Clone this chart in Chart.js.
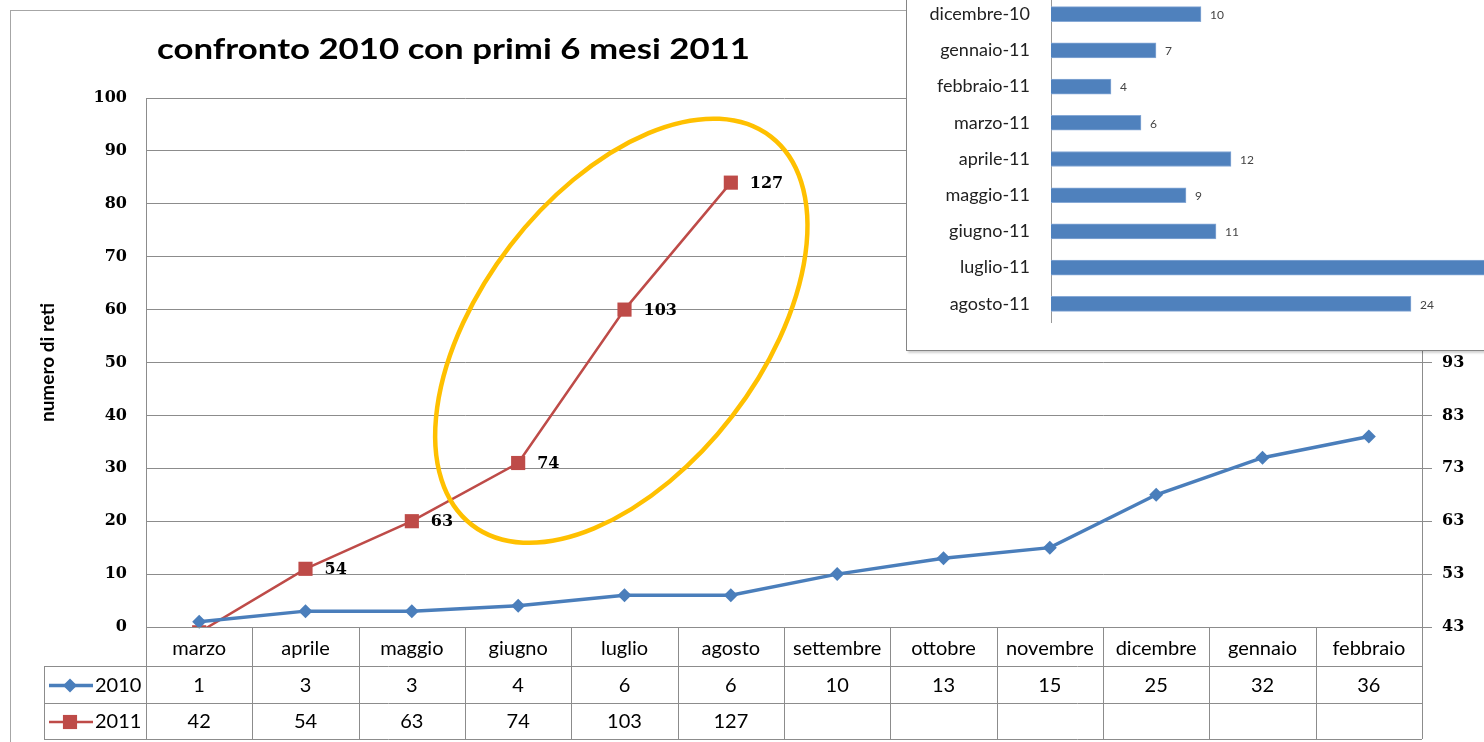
<!DOCTYPE html>
<html>
<head>
<meta charset="utf-8">
<script src="https://cdn.jsdelivr.net/npm/chart.js@4.4.1/dist/chart.umd.min.js"></script>
<style>
  html, body { margin: 0; padding: 0; background: #fff; overflow: hidden; width: 1484px; height: 742px; }
  #frame { position: absolute; left: 10px; top: 10px; width: 1600px; height: 800px; border: 1px solid #a6a6a6; }
  #main { position: absolute; left: 0; top: 0; }
  #inset { position: absolute; left: 906px; top: -40px; width: 700px; height: 390px; background: #fff;
           border-left: 1px solid #858585; border-bottom: 1px solid #858585; box-shadow: 2px 2px 2px rgba(0,0,0,0.18); }
  #bars { position: absolute; left: 0; top: 0; }
</style>
</head>
<body>
<div id="frame"></div>
<canvas id="main" width="1484" height="742"></canvas>
<div id="inset"><canvas id="bars" width="700" height="390"></canvas></div>
<script>
// main chart data
const months = ['marzo', 'aprile', 'maggio', 'giugno', 'luglio', 'agosto',
                'settembre', 'ottobre', 'novembre', 'dicembre', 'gennaio', 'febbraio'];
const reti2010 = [1, 3, 3, 4, 6, 6, 10, 13, 15, 25, 32, 36];
const reti2011 = [42, 54, 63, 74, 103, 127, null, null, null, null, null, null];
const leftAxis = { min: 0, max: 100, step: 10 };
const rightAxis = { min: 43, max: 143, step: 10 };

// inset bar chart (monthly increments)
const incrMonths = ['dicembre-10', 'gennaio-11', 'febbraio-11', 'marzo-11', 'aprile-11',
                    'maggio-11', 'giugno-11', 'luglio-11', 'agosto-11'];
const incrValues = [10, 7, 4, 6, 12, 9, 11, 29, 24];

const BLUE = '#4A7EBB';
const RED = '#BE4B48';
const GRID = '#8c8c8c';
const SANS = 'Lato, "Open Sans", sans-serif';
const SERIF = '"DejaVu Serif", serif';
const TITLE = 'confronto 2010 con primi 6 mesi 2011';

// highlight ring around the 2011 growth, placed in data units
const ring = { xIndex: 3.97, yValue: 56, rx: 245, ry: 140, angle: -52.4, color: '#FFC000', width: 4.5 };

const titlePlugin = {
  id: 'titleText',
  afterDraw(chart) {
    const ctx = chart.ctx;
    ctx.save();
    ctx.font = 'bold 28px ' + SANS;
    ctx.fillStyle = '#000';
    ctx.textAlign = 'left';
    ctx.textBaseline = 'middle';
    const w = ctx.measureText(TITLE).width;
    ctx.translate(157, 50);
    ctx.scale(593 / w, 1);
    ctx.fillText(TITLE, 0, 0);
    ctx.restore();
  }
};

const ringPlugin = {
  id: 'ring',
  afterDatasetsDraw(chart) {
    const ctx = chart.ctx;
    const cx = chart.scales.x.getPixelForValue(ring.xIndex);
    const cy = chart.scales.y.getPixelForValue(ring.yValue);
    ctx.save();
    ctx.strokeStyle = ring.color;
    ctx.lineWidth = ring.width;
    ctx.beginPath();
    ctx.ellipse(cx, cy, ring.rx, ring.ry, ring.angle * Math.PI / 180, 0, 2 * Math.PI);
    ctx.stroke();
    ctx.restore();
  }
};

const labels2011 = {
  id: 'labels2011',
  afterDatasetsDraw(chart) {
    const ctx = chart.ctx;
    const meta = chart.getDatasetMeta(1);
    ctx.save();
    ctx.font = 'bold 16px ' + SERIF;
    ctx.fillStyle = '#000';
    ctx.textAlign = 'left';
    ctx.textBaseline = 'middle';
    meta.data.forEach((pt, i) => {
      const v = reti2011[i];
      if (v === null || v < rightAxis.min) return;
      ctx.fillText(String(v), pt.x + 19, pt.y + 1);
    });
    ctx.restore();
  }
};

// data table under the plot (header row = x axis labels)
const tablePlugin = {
  id: 'dataTable',
  afterDraw(chart) {
    const ctx = chart.ctx;
    const xs = chart.scales.x;
    const area = chart.chartArea;
    const legendLeft = 44;
    const rowTops = [area.bottom, area.bottom + 39, area.bottom + 76, area.bottom + 112];
    const edges = [area.left];
    for (let i = 1; i < months.length; i++) {
      edges.push((xs.getPixelForValue(i - 1) + xs.getPixelForValue(i)) / 2);
    }
    edges.push(area.right);

    ctx.save();
    ctx.strokeStyle = GRID;
    ctx.lineWidth = 1;
    ctx.beginPath();
    ctx.moveTo(area.left, rowTops[0] + 0.5);
    ctx.lineTo(area.right, rowTops[0] + 0.5);
    for (let r = 1; r < rowTops.length; r++) {
      ctx.moveTo(legendLeft, Math.round(rowTops[r]) + 0.5);
      ctx.lineTo(area.right, Math.round(rowTops[r]) + 0.5);
    }
    edges.forEach(e => {
      ctx.moveTo(Math.round(e) + 0.5, rowTops[0]);
      ctx.lineTo(Math.round(e) + 0.5, rowTops[3]);
    });
    ctx.moveTo(legendLeft + 0.5, rowTops[1]);
    ctx.lineTo(legendLeft + 0.5, rowTops[3]);
    ctx.stroke();

    const rows = [
      { name: '2010', values: reti2010, ds: 0 },
      { name: '2011', values: reti2011, ds: 1 }
    ];
    ctx.font = '20px ' + SANS;
    ctx.fillStyle = '#000';
    ctx.textBaseline = 'middle';
    rows.forEach((row, r) => {
      const cy = (rowTops[r + 1] + rowTops[r + 2]) / 2 + 1;
      ctx.textAlign = 'center';
      row.values.forEach((v, i) => {
        if (v === null) return;
        ctx.fillText(String(v), xs.getPixelForValue(i), cy);
      });
      // legend key
      const dsOpt = chart.data.datasets[row.ds];
      ctx.strokeStyle = dsOpt.borderColor;
      ctx.lineWidth = dsOpt.borderWidth;
      ctx.beginPath();
      ctx.moveTo(49, cy);
      ctx.lineTo(93, cy);
      ctx.stroke();
      ctx.fillStyle = dsOpt.backgroundColor;
      Chart.helpers.drawPoint(ctx, { pointStyle: dsOpt.pointStyle, radius: dsOpt.pointRadius, rotation: 0, borderWidth: 0 }, 70, cy);
      ctx.fillStyle = '#000';
      ctx.textAlign = 'left';
      ctx.fillText(row.name, 95, cy);
    });
    ctx.restore();
  }
};

new Chart(document.getElementById('main'), {
  type: 'line',
  data: {
    labels: months,
    datasets: [
      {
        label: '2010', data: reti2010, yAxisID: 'y',
        borderColor: BLUE, backgroundColor: BLUE, borderWidth: 3.5,
        pointStyle: 'rectRot', pointRadius: 7, pointBorderWidth: 0,
        clip: { left: 20, right: 20, top: 20, bottom: 12 }
      },
      {
        label: '2011', data: reti2011, yAxisID: 'y2',
        borderColor: RED, backgroundColor: RED, borderWidth: 2.5,
        pointStyle: 'rect', pointRadius: 10, pointBorderWidth: 0,
        clip: 0
      }
    ]
  },
  options: {
    responsive: false,
    animation: false,
    devicePixelRatio: 1,
    layout: { padding: { left: 0, top: 98, right: 0, bottom: 0 } },
    plugins: { legend: { display: false }, tooltip: { enabled: false } },
    scales: {
      x: {
        offset: true,
        grid: { display: false },
        border: { display: false },
        ticks: { font: { family: SANS, size: 20 }, color: '#000', padding: 2, maxRotation: 0, autoSkip: false },
        afterFit(scale) { scale.height = 115; }
      },
      y: {
        position: 'left',
        min: leftAxis.min, max: leftAxis.max,
        ticks: { stepSize: leftAxis.step, font: { family: SERIF, size: 16, weight: 'bold' }, color: '#000', padding: 19 },
        grid: { color: GRID, lineWidth: 1, drawTicks: false },
        border: { color: GRID },
        title: { display: true, text: 'numero di reti', font: { family: SANS, size: 19, weight: 'bold' }, color: '#000', padding: { top: 36, bottom: 0 } },
        afterFit(scale) { scale.width = 146; }
      },
      y2: {
        position: 'right',
        min: rightAxis.min, max: rightAxis.max,
        ticks: { stepSize: rightAxis.step, font: { family: SERIF, size: 16, weight: 'bold' }, color: '#000', padding: 10 },
        grid: { drawOnChartArea: false, drawTicks: true, tickLength: 10, color: GRID },
        border: { color: GRID },
        afterFit(scale) { scale.width = 62; }
      }
    }
  },
  plugins: [titlePlugin, ringPlugin, labels2011, tablePlugin]
});

const barValueLabels = {
  id: 'barValueLabels',
  afterDatasetsDraw(chart) {
    const ctx = chart.ctx;
    ctx.save();
    ctx.font = '12px ' + SANS;
    ctx.fillStyle = '#444';
    ctx.textAlign = 'left';
    ctx.textBaseline = 'middle';
    chart.getDatasetMeta(0).data.forEach((bar, i) => {
      ctx.fillText(String(incrValues[i]), bar.x + 9, bar.y + 1);
    });
    ctx.restore();
  }
};

new Chart(document.getElementById('bars'), {
  type: 'bar',
  data: {
    labels: incrMonths,
    datasets: [{
      data: incrValues,
      backgroundColor: '#4F81BD', borderColor: '#86A9D6', borderWidth: 1,
      barThickness: 15
    }]
  },
  options: {
    indexAxis: 'y',
    responsive: false,
    animation: false,
    devicePixelRatio: 1,
    layout: { padding: { left: 0, top: 36, right: 106, bottom: 28 } },
    plugins: { legend: { display: false }, tooltip: { enabled: false } },
    scales: {
      x: { display: false, min: 0, max: 30 },
      y: {
        grid: { display: false },
        border: { color: '#999' },
        ticks: { font: { family: SANS, size: 18 }, color: '#222', padding: 13 },
        afterFit(scale) { scale.width = 144; }
      }
    }
  },
  plugins: [barValueLabels]
});
</script>
</body>
</html>
